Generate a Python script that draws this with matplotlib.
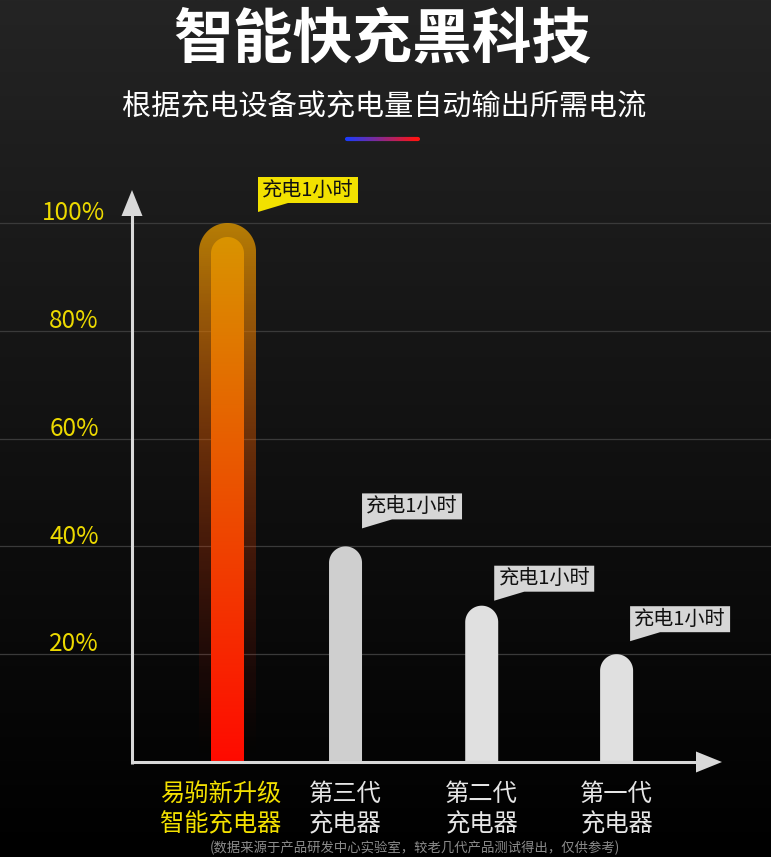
import numpy as np
import matplotlib
matplotlib.use('Agg')
import matplotlib.pyplot as plt
from matplotlib.path import Path
from matplotlib.patches import PathPatch, Polygon
from matplotlib.collections import LineCollection

plt.rcParams['font.family'] = ['Noto Sans CJK SC', 'DejaVu Sans']

# ---------------- data ----------------
line1 = ['易驹新升级', '第三代', '第二代', '第一代']
line2 = ['智能充电器', '充电器', '充电器', '充电器']
values = [100, 40, 29, 20]
callout_text = '充电1小时'
yticks = [20, 40, 60, 80, 100]
ytick_labels = ['20%', '40%', '60%', '80%', '100%']
title = '智能快充黑科技'
subtitle = '根据充电设备或充电量自动输出所需电流'
footnote = '(数据来源于产品研发中心实验室，较老几代产品测试得出，仅供参考)'

# ---------------- layout ----------------
W, H = 771, 857
xpos = [0, 0.91, 1.96, 3.0]
X0PX, Y0PX, Y100PX = 227.5, 762, 223
SX = 129.7
SY = (Y0PX - Y100PX) / 100.0

fig = plt.figure(figsize=(W / 100, H / 100), dpi=100)
ax = fig.add_axes([0, 0, 1, 1])
xl = (-X0PX / SX, (W - X0PX) / SX)
yl = (-(H - Y0PX) / SY, 100 + Y100PX / SY)


def px_x(p):
    return (p - X0PX) / SX


def px_y(p):
    return (Y0PX - p) / SY


def dx(p):
    return p / SX


def dy(p):
    return p / SY


# background gradient
g = np.linspace(0, 1, 400)[:, None]
c0 = np.array([0x24, 0x24, 0x24]) / 255.0
bg = (c0[None, None, :] * (1 - g)[:, :, None]) * np.ones((1, 2, 1))
ax.imshow(bg, extent=[xl[0], xl[1], yl[0], yl[1]], origin='upper', aspect='auto', zorder=0)

# gridlines
for v in yticks:
    ax.axhline(v, color='#3a3a3a', lw=0.9, zorder=1)


def bar_path(xc, top, wpx):
    hw = dx(wpx / 2.0)
    ry = dy(wpx / 2.0)
    t = np.linspace(np.pi, 0, 80)
    cx = xc + hw * np.cos(t)
    cy = top - ry + ry * np.sin(t)
    xs = np.concatenate([[xc - hw], cx, [xc + hw], [xc - hw]])
    ys = np.concatenate([[0], cy, [0], [0]])
    return Path(np.column_stack([xs, ys]), closed=True)


def bar_color(f):
    r = 0.85 + 0.15 * f
    gg = 0.58 - 0.54 * f
    return np.stack([r, gg, np.zeros_like(f)], axis=-1)


# main bar (gradient + glow)
xc = xpos[0]
top_o = values[0]
top_i = values[0] - dy(14)
N = 400
fo = np.linspace(0, 1, N)
col_o = bar_color(fo)
alpha_o = 0.82 * (1 - fo) ** 1.3
img_o = np.concatenate([col_o, alpha_o[:, None]], axis=1)[:, None, :] * np.ones((1, 2, 1))
po = PathPatch(bar_path(xc, top_o, 57), facecolor='none', edgecolor='none', transform=ax.transData)
ax.add_patch(po)
im_o = ax.imshow(img_o, extent=[xc - dx(29), xc + dx(29), 0, top_o], origin='upper', aspect='auto', zorder=2)
im_o.set_clip_path(po)
fi = np.linspace(0, 1, N)
col_i = bar_color(fi)
img_i = col_i[:, None, :] * np.ones((1, 2, 1))
pi_ = PathPatch(bar_path(xc, top_i, 33), facecolor='none', edgecolor='none', transform=ax.transData)
ax.add_patch(pi_)
im_i = ax.imshow(img_i, extent=[xc - dx(17), xc + dx(17), 0, top_i], origin='upper', aspect='auto', zorder=3)
im_i.set_clip_path(pi_)

# gray bars
gray_cols = ['#cfcfcf', '#e0e0e0', '#e0e0e0']
for i in range(1, 4):
    ax.add_patch(PathPatch(bar_path(xpos[i], values[i], 33), facecolor=gray_cols[i - 1],
                           edgecolor='none', zorder=3))

# callouts
half_w = [28.5, 16.5, 16.5, 16.5]
gaps = [2, 0, -4, -3]
offs = [20, 27, 14, 22]
box_cols = ['#f2e100', '#d6d6d6', '#d6d6d6', '#d6d6d6']
for i in range(4):
    L = xpos[i] + dx(half_w[i] + gaps[i])
    B = values[i] + dy(offs[i])
    R = L + dx(100)
    T = B + dy(26)
    pts = [(L, T), (R, T), (R, B), (L + dx(30), B), (L, B - dy(9))]
    ax.add_patch(Polygon(pts, closed=True, facecolor=box_cols[i], edgecolor='none', zorder=4))
    ax.text(L + dx(50), B + dy(13), callout_text, ha='center', va='center',
            fontsize=14.5, color='#111111', zorder=5)

# axes arrows
acol = '#d9d9d9'
ax.plot([px_x(132), px_x(132)], [px_y(763.5), px_y(214)], color=acol, lw=2.2,
        solid_capstyle='butt', zorder=5)
ax.add_patch(Polygon([(px_x(132), px_y(190)), (px_x(121.5), px_y(216)), (px_x(142.5), px_y(216))],
                     closed=True, facecolor=acol, edgecolor='none', zorder=5))
ax.plot([px_x(130.5), px_x(698)], [0, 0], color=acol, lw=2.2, solid_capstyle='butt', zorder=5)
ax.add_patch(Polygon([(px_x(722), 0), (px_x(696), dy(10.5)), (px_x(696), -dy(10.5))],
                     closed=True, facecolor=acol, edgecolor='none', zorder=5))

# y tick labels
for v, lbl in zip(yticks, ytick_labels):
    ax.annotate(lbl, xy=(px_x(74), v), xytext=(0, 7), textcoords='offset points',
                ha='center', va='center', fontsize=17.5, color='#ecd900', zorder=6)

# category labels
for i in range(4):
    col = '#f3e000' if i == 0 else '#e6e6e6'
    xlab = xpos[i] - (dx(7) if i == 0 else 0)
    ax.text(xlab, px_y(794), line1[i], ha='center', va='center',
            fontsize=17.5, color=col, zorder=6)
    ax.text(xlab, px_y(824), line2[i], ha='center', va='center',
            fontsize=17.5, color=col, zorder=6)

# title / subtitle
fig.text(382 / W, 1 - 41 / H, title, ha='center', va='center', fontsize=43,
         fontweight='bold', color='white')
fig.text(384 / W, 1 - 107 / H, subtitle, ha='center', va='center', fontsize=21, color='white')

# gradient accent line
nseg = 60
xs = np.linspace(px_x(347), px_x(418), nseg + 1)
ys = np.full_like(xs, px_y(139))
segs = [[(xs[k], ys[k]), (xs[k + 1], ys[k + 1])] for k in range(nseg)]
t = np.linspace(0, 1, nseg)
c_start = np.array([0x1a, 0x3c, 0xff]) / 255.0
c_end = np.array([0xff, 0x14, 0x14]) / 255.0
cols = c_start[None, :] * (1 - t[:, None]) + c_end[None, :] * t[:, None]
ax.add_collection(LineCollection(segs, colors=cols, linewidths=3.0, capstyle='round', zorder=6))

# footnote
fig.text(415 / W, 1 - 848 / H, footnote, ha='center', va='center', fontsize=9.6, color='#8c8c8c')

ax.set_xlim(*xl)
ax.set_ylim(*yl)
ax.axis('off')
fig.savefig('out.png', dpi=100, facecolor='black')
